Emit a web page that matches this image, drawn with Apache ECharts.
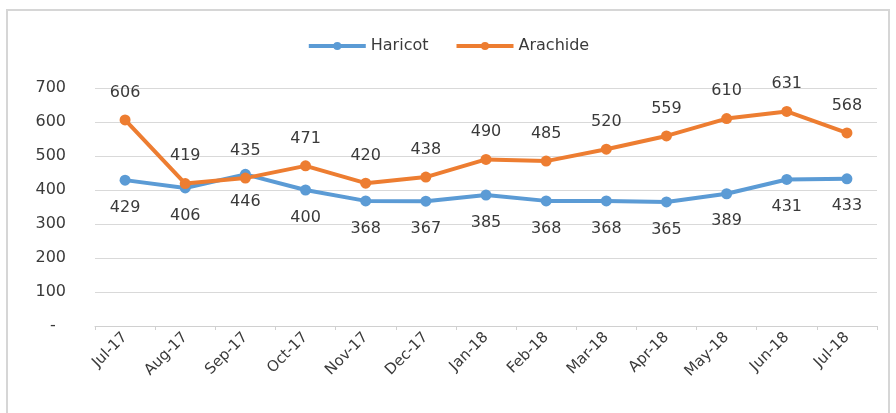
<!DOCTYPE html>
<html>
<head>
<meta charset="utf-8">
<script src="https://cdn.jsdelivr.net/npm/echarts@6/dist/echarts.min.js"></script>
<style>
  html, body { margin: 0; padding: 0; background: #fff; }
  #chart { width: 896px; height: 413px; }
</style>
</head>
<body>
<div id="chart"></div>
<script>
// Monthly prices, July 2017 to July 2018
const months = ['Jul-17', 'Aug-17', 'Sep-17', 'Oct-17', 'Nov-17', 'Dec-17', 'Jan-18',
                'Feb-18', 'Mar-18', 'Apr-18', 'May-18', 'Jun-18', 'Jul-18'];
const haricot = [429, 406, 446, 400, 368, 367, 385, 368, 368, 365, 389, 431, 433];
const arachide = [606, 419, 435, 471, 420, 438, 490, 485, 520, 559, 610, 631, 568];
const seriesNames = ['Haricot', 'Arachide'];

const FONT = 'DejaVu Sans';
const TEXT = '#3a3a3a';

const chart = echarts.init(document.getElementById('chart'), null, { renderer: 'canvas' });

function lineSeries(name, values, color, labelPos) {
  return {
    name: name,
    type: 'line',
    data: values,
    symbol: 'circle',
    symbolSize: 11,
    showAllSymbol: true,
    lineStyle: { color: color, width: 4 },
    itemStyle: { color: color },
    label: {
      show: true,
      position: labelPos,
      distance: 14,
      color: TEXT,
      fontFamily: FONT,
      fontSize: 16
    },
    emphasis: { disabled: true },
    animation: false
  };
}

chart.setOption({
  animation: false,
  backgroundColor: '#ffffff',
  graphic: [{
    type: 'rect',
    shape: { x: 7, y: 10, width: 882, height: 430 },
    style: { fill: 'none', stroke: '#d6d6d6', lineWidth: 2 },
    silent: true,
    z: -1
  }],
  legend: {
    data: seriesNames,
    top: 33,
    left: 'center',
    itemWidth: 57,
    itemHeight: 10,
    itemGap: 26,
    lineStyle: { width: 4 },
    textStyle: { color: TEXT, fontFamily: FONT, fontSize: 16 }
  },
  grid: { left: 95, right: 19, top: 88, bottom: 87, containLabel: false },
  xAxis: {
    type: 'category',
    data: months,
    boundaryGap: true,
    axisLine: { show: true, lineStyle: { color: '#d0d0d0', width: 1 } },
    axisTick: { show: true, length: 4, lineStyle: { color: '#d0d0d0' } },
    axisLabel: {
      rotate: 45,
      margin: 9,
      interval: 0,
      color: TEXT,
      fontFamily: FONT,
      fontSize: 15
    },
    splitLine: { show: false }
  },
  yAxis: {
    type: 'value',
    min: 0,
    max: 700,
    interval: 100,
    axisLine: { show: false },
    axisTick: { show: false },
    axisLabel: {
      margin: 29,
      color: TEXT,
      fontFamily: FONT,
      fontSize: 16,
      formatter: v => (v === 0 ? '-  ' : String(v))
    },
    splitLine: { lineStyle: { color: '#d9d9d9', width: 1 } }
  },
  series: [
    lineSeries(seriesNames[0], haricot, '#5B9BD5', 'bottom'),
    lineSeries(seriesNames[1], arachide, '#ED7D31', 'top')
  ]
});
</script>
</body>
</html>
